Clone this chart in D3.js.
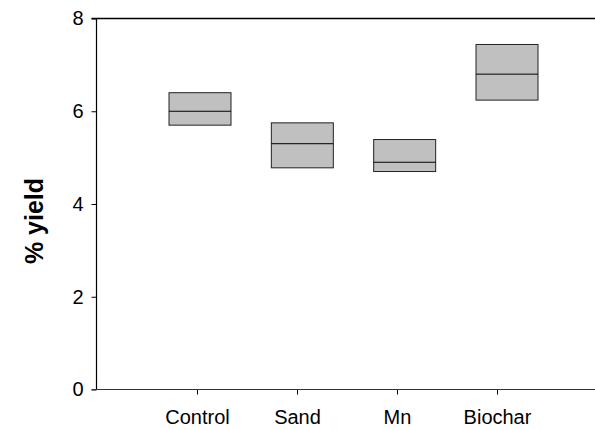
<!DOCTYPE html>
<html>
<head>
<meta charset="utf-8">
<script src="https://cdn.jsdelivr.net/npm/d3@7"></script>
<style>
  html, body { margin: 0; padding: 0; background: #fff; }
  svg { display: block; font-family: Arial, "Liberation Sans", sans-serif; }
</style>
</head>
<body>
<div id="chart"></div>
<script>
// box data (percentiles)
const categories = ["Control", "Sand", "Mn", "Biochar"];
const lowerQ = [5.70, 4.78, 4.70, 6.24];
const medians = [6.00, 5.30, 4.90, 6.80];
const upperQ = [6.40, 5.75, 5.39, 7.44];
const yTicks = [0, 2, 4, 6, 8];

const width = 595, height = 430;
const x0 = 96.5, x1 = 595, yTop = 18.5, yBottom = 389.5;
const boxWidth = 62;

const svg = d3.select("#chart").append("svg")
  .attr("width", width)
  .attr("height", height);

const y = d3.scaleLinear().domain([0, 8]).range([yBottom, yTop]);

// tick marks and the boxes sit on slightly different spacings in the original
const xTick = d3.scalePoint().domain(categories).range([197, 497]);
const xBox = d3.scalePoint().domain(categories).range([200, 507]);

const boxes = categories.map((c, i) => ({
  name: c, lo: lowerQ[i], med: medians[i], hi: upperQ[i]
}));

// y axis
const yAxis = svg.append("g")
  .attr("transform", `translate(${x0},0)`)
  .call(d3.axisLeft(y).tickValues(yTicks).tickSize(5).tickPadding(8).tickFormat(d3.format("d")));
yAxis.select(".domain").remove();
yAxis.selectAll("text").attr("font-size", 20).attr("fill", "#000").attr("font-family", "Arial, 'Liberation Sans', sans-serif");
yAxis.selectAll("line").attr("stroke", "#000");

// x axis
const xAxis = svg.append("g")
  .attr("transform", `translate(0,${yBottom})`)
  .call(d3.axisBottom(xTick).tickSize(5).tickPadding(15));
xAxis.select(".domain").remove();
xAxis.selectAll("text").attr("font-size", 20).attr("fill", "#000").attr("font-family", "Arial, 'Liberation Sans', sans-serif");
xAxis.selectAll("line").attr("stroke", "#000");

// frame lines: left, bottom and top (no right side)
svg.append("line")
  .attr("x1", x0).attr("x2", x0).attr("y1", yTop).attr("y2", yBottom)
  .attr("stroke", "#000").attr("stroke-width", 1.2);
svg.append("line")
  .attr("x1", x0 - 5).attr("x2", x1).attr("y1", yBottom).attr("y2", yBottom)
  .attr("stroke", "#333").attr("stroke-width", 1);
svg.append("line")
  .attr("x1", x0 - 5).attr("x2", x1).attr("y1", yTop).attr("y2", yTop)
  .attr("stroke", "#000").attr("stroke-width", 1.3);

// boxes
const g = svg.append("g");
g.selectAll("rect")
  .data(boxes)
  .enter().append("rect")
  .attr("x", d => xBox(d.name) - boxWidth / 2)
  .attr("width", boxWidth)
  .attr("y", d => y(d.hi))
  .attr("height", d => y(d.lo) - y(d.hi))
  .attr("fill", "#c0c0c0")
  .attr("stroke", "#222")
  .attr("stroke-width", 1);

g.selectAll("line.median")
  .data(boxes)
  .enter().append("line")
  .attr("class", "median")
  .attr("x1", d => xBox(d.name) - boxWidth / 2)
  .attr("x2", d => xBox(d.name) + boxWidth / 2)
  .attr("y1", d => y(d.med))
  .attr("y2", d => y(d.med))
  .attr("stroke", "#000")
  .attr("stroke-width", 1);

// y axis title
svg.append("text")
  .attr("transform", `translate(43,221) rotate(-90)`)
  .attr("text-anchor", "middle")
  .attr("font-size", 25)
  .attr("font-weight", "bold")
  .text("% yield");
</script>
</body>
</html>
